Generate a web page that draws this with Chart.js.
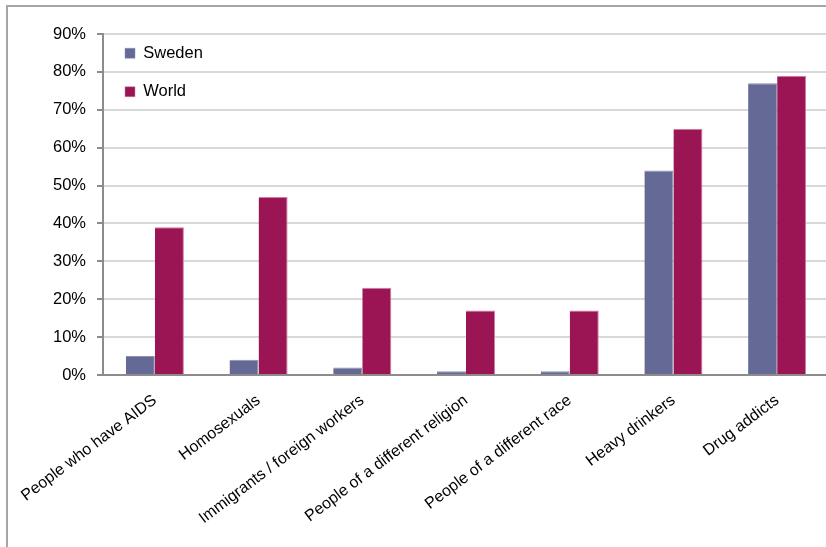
<!DOCTYPE html>
<html>
<head>
<meta charset="utf-8">
<script src="https://cdn.jsdelivr.net/npm/chart.js@4.4.0/dist/chart.umd.min.js"></script>
<style>
  body { margin: 0; overflow: hidden; background: #fff; }
  #wrap { position: relative; width: 829px; height: 547px; }
  #frame { position: absolute; left: 6px; top: 5px; width: 900px; height: 600px;
           border-left: 2px solid #a6a6a6; border-top: 2px solid #a6a6a6; }
  #chart { position: absolute; left: 0; top: 0; }
</style>
</head>
<body>
<div id="wrap">
  <div id="frame"></div>
  <canvas id="chart" width="829" height="547"></canvas>
</div>
<script>
var categories = ["People who have AIDS", "Homosexuals", "Immigrants / foreign workers",
  "People of a different religion", "People of a different race", "Heavy drinkers", "Drug addicts"];
var sweden = [5, 4, 2, 1, 1, 54, 77];
var world = [39, 47, 23, 17, 17, 65, 79];
var yTicks = [0, 10, 20, 30, 40, 50, 60, 70, 80, 90];

var family = "'Liberation Sans', Arial, sans-serif";
var font = { family: family, size: 16.5 };
var xFont = { family: family, size: 16 };

// nudge the legend down a bit inside the plot area
var legendShift = {
  id: "legendShift",
  afterLayout: function(chart) {
    chart.legend.top += 23;
    chart.legend.bottom += 23;
  }
};

var ctx = document.getElementById("chart").getContext("2d");
var chart = new Chart(ctx, {
  type: "bar",
  data: {
    labels: categories,
    datasets: [
      { label: "Sweden", data: sweden, backgroundColor: "#646995", borderColor: "#8d90b3", borderWidth: { top: 1, left: 0, right: 1, bottom: 0 } },
      { label: "World", data: world, backgroundColor: "#9b1453", borderColor: "#d07fa4", borderWidth: { top: 1, left: 0, right: 1, bottom: 0 } }
    ]
  },
  plugins: [legendShift],
  options: {
    responsive: false,
    animation: false,
    layout: { padding: { top: 34, right: 0, left: 0, bottom: 0 } },
    categoryPercentage: 0.56,
    barPercentage: 1.0,
    plugins: {
      tooltip: { enabled: false },
      legend: {
        position: "chartArea",
        align: "start",
        labels: { font: font, color: "#000", boxWidth: 10, boxHeight: 10, padding: 22 }
      }
    },
    scales: {
      x: {
        grid: { display: false, drawTicks: false },
        border: { color: "#8c8c8c", width: 2 },
        ticks: { font: xFont, color: "#000", minRotation: 37, maxRotation: 37, autoSkip: false, padding: 16 },
        afterFit: function(scale) {
          scale.height = 547 - 375;
          scale.paddingLeft = 0;
          scale.paddingRight = 0;
        }
      },
      y: {
        min: 0, max: 90,
        afterBuildTicks: function(scale) { scale.ticks = yTicks.map(function(v){ return { value: v }; }); },
        grid: { color: "#d9d9d9", lineWidth: 2, tickColor: "#8c8c8c", tickLength: 6 },
        border: { color: "#8c8c8c", width: 2 },
        ticks: { font: font, color: "#000", padding: 11, callback: function(v){ return v + "%"; } },
        afterFit: function(scale) { scale.width = 103; }
      }
    }
  }
});
</script>
</body>
</html>
